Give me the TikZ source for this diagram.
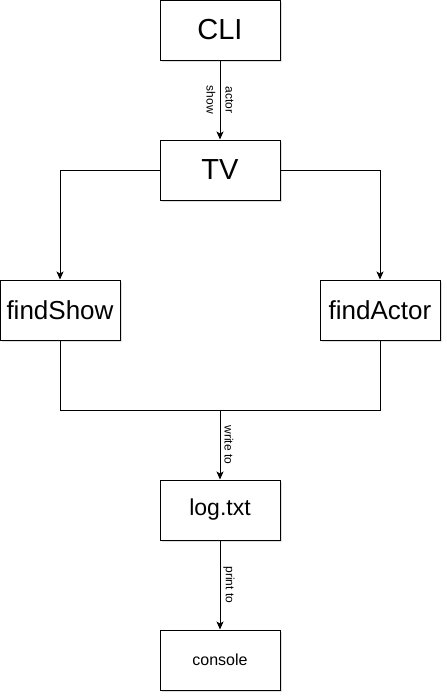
\documentclass[tikz,border=0pt]{standalone}
\usepackage{fontspec}
\setmainfont{Liberation Sans}
\usetikzlibrary{arrows.meta,shadows}

\begin{document}
\begin{tikzpicture}[x=1pt,y=-1pt,
                    block/.style={draw,line width=1pt,fill=white,minimum width=120pt,
                      minimum height=60pt,inner sep=0pt,
                      drop shadow={shadow xshift=1.5pt,shadow yshift=-1.5pt,opacity=0.25}},
                    flow/.style={draw,line width=1pt,-{Stealth[length=8pt,width=7pt,inset=2pt]}},
                    link/.style={draw,line width=1pt},
                    every info/.style={font=\fontsize{12}{19}\selectfont,rotate=-90,inner sep=0pt}]
  \useasboundingbox (0,0) rectangle (447,697);
  \node[block,font=\fontsize{29}{34}\selectfont] (cli) at (220,30) {CLI};
  \node[block,font=\fontsize{29}{34}\selectfont] (tv) at (220,170) {TV};
  \node[block,font=\fontsize{26}{30}\selectfont] (findshow) at (60,310) {findShow};
  \node[block,font=\fontsize{26}{30}\selectfont] (findactor) at (380,310) {findActor};
  \node[block,font=\fontsize{23}{27}\selectfont] (log) at (220,510) {log.txt};
  \node[block,font=\fontsize{16}{19}\selectfont] (console) at (220,660) {console};
  \coordinate (join) at (220,410.2);

  \draw[flow] (cli) -- node[every info,align=center] {actor\\show} (tv);
  \draw[flow] (tv.west) -| (findshow.north);
  \draw[flow] (tv.east) -| (findactor.north);
  \draw[link] (findshow.south) |- (join);
  \draw[link] (findactor.south) |- (join);
  \draw[flow] (join) -- node[xshift=9pt,every info] {write to} (log);
  \draw[flow] (log) -- node[xshift=9pt,every info] {print to} (console);
\end{tikzpicture}
\end{document}
